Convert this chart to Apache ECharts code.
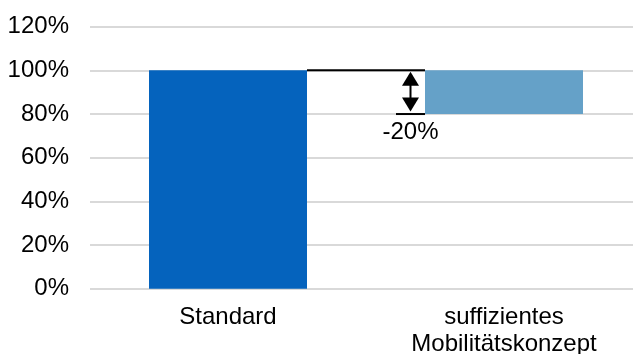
<!DOCTYPE html>
<html>
<head>
<meta charset="utf-8">
<script src="https://cdn.jsdelivr.net/npm/echarts@6/dist/echarts.min.js"></script>
<style>
  html, body { margin: 0; padding: 0; background: #fff; }
  #chart { width: 633px; height: 354px; }
</style>
</head>
<body>
<div id="chart"></div>
<script>
// Categories and values (percent of the standard scenario)
const categories = ['Standard', 'suffizientes\nMobilitätskonzept'];
const values = [100, 80];
const yTicks = [0, 20, 40, 60, 80, 100, 120];

const change = values[1] - values[0];          // -20
const BAR_WIDTH = 158;
const FONT = 'Liberation Sans, Arial, sans-serif';

const chart = echarts.init(document.getElementById('chart'), null, { renderer: 'canvas' });

// Annotation: connector line at the reference level, marker at the new level,
// double-headed arrow between them and the change label.
function renderDelta(params, api) {
  const c0 = api.coord([0, values[0]]);
  const c1 = api.coord([1, values[0]]);
  const low = api.coord([1, values[1]]);
  const half = BAR_WIDTH / 2;
  const x0 = c0[0] + half;
  const x1 = c1[0] - half;
  const yTop = c1[1];
  const yBot = low[1];
  const ax = x1 - 14.5;
  const headH = 14, headW = 8.5;
  return {
    type: 'group',
    children: [
      { type: 'line', shape: { x1: x0, y1: yTop, x2: x1, y2: yTop },
        style: { stroke: '#000', lineWidth: 2 } },
      { type: 'line', shape: { x1: x1 - 29, y1: yBot, x2: x1, y2: yBot },
        style: { stroke: '#000', lineWidth: 2 } },
      { type: 'line', shape: { x1: ax, y1: yTop + headH, x2: ax, y2: yBot - headH },
        style: { stroke: '#000', lineWidth: 2 } },
      { type: 'polygon', shape: { points: [[ax, yTop + 1.5], [ax - headW, yTop + 1.5 + headH], [ax + headW, yTop + 1.5 + headH]] },
        style: { fill: '#000' } },
      { type: 'polygon', shape: { points: [[ax, yBot - 2.5], [ax - headW, yBot - 2.5 - headH], [ax + headW, yBot - 2.5 - headH]] },
        style: { fill: '#000' } },
      { type: 'text', x: ax, y: yBot + 6,
        style: { text: change + '%', fill: '#000', font: '24px ' + FONT, align: 'center', verticalAlign: 'top' } }
    ]
  };
}

chart.setOption({
  animation: false,
  backgroundColor: '#fff',
  grid: { left: 90, width: 552, top: 26.7, height: 262, containLabel: false, outerBoundsMode: 'none' },
  xAxis: {
    type: 'category',
    data: categories,
    axisLine: { show: false },
    axisTick: { show: false },
    axisLabel: { color: '#000', fontFamily: FONT, fontSize: 24, lineHeight: 27, margin: 15, interval: 0 }
  },
  yAxis: {
    type: 'value',
    min: yTicks[0],
    max: yTicks[yTicks.length - 1],
    interval: yTicks[1] - yTicks[0],
    axisLine: { show: false },
    axisTick: { show: false },
    axisLabel: { color: '#000', fontFamily: FONT, fontSize: 24, margin: 21, formatter: '{value}%' },
    splitLine: { lineStyle: { color: '#d9d9d9', width: 2 } }
  },
  series: [
    {
      name: 'Basis',
      type: 'bar',
      stack: 'total',
      barWidth: BAR_WIDTH,
      data: [
        { value: values[0], itemStyle: { color: '#0563bd' } },
        { value: values[1], itemStyle: { color: 'rgba(0,0,0,0)' } }
      ]
    },
    {
      name: 'Reduktion',
      type: 'bar',
      stack: 'total',
      barWidth: BAR_WIDTH,
      itemStyle: { color: '#65a1c8' },
      data: ['-', values[0] - values[1]]
    },
    {
      name: 'Differenz',
      type: 'custom',
      renderItem: renderDelta,
      data: [[1, values[0]]],
      z: 5
    }
  ]
});
</script>
</body>
</html>
